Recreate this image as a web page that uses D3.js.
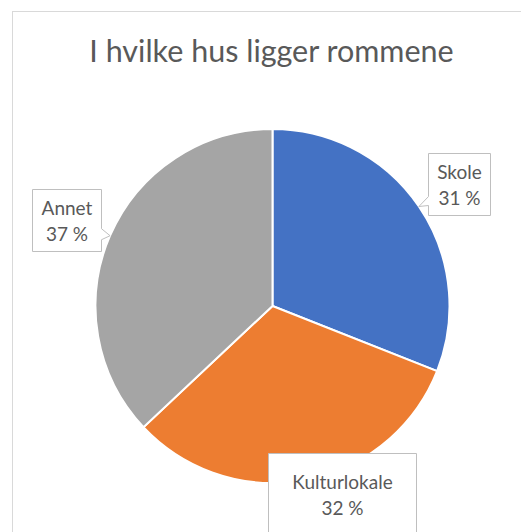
<!DOCTYPE html>
<html lang="no">
<head>
<meta charset="utf-8">
<title>I hvilke hus ligger rommene</title>
<script src="https://d3js.org/d3.v7.min.js"></script>
<style>
  body { margin: 0; background: #fff; }
  text { font-family: Lato, "Open Sans", sans-serif; fill: #595959; }
</style>
</head>
<body>
<div id="chart"></div>
<script>
// data
var categories = ["Skole", "Kulturlokale", "Annet"];
var values = [31, 32, 37];
var labels = ["31 %", "32 %", "37 %"];
var colors = ["#4472C4", "#ED7D31", "#A5A5A5"];

var W = 521, H = 532;
var cx = 272.5, cy = 306, radius = 177;

var svg = d3.select("#chart").append("svg")
    .attr("width", W)
    .attr("height", H);

// chart area border (runs off the right and bottom edge)
svg.append("rect")
    .attr("x", 12.5).attr("y", 11.5)
    .attr("width", 560).attr("height", 560)
    .attr("fill", "#fff")
    .attr("stroke", "#D9D9D9");

// title
svg.append("text")
    .attr("x", cx - 1).attr("y", 62)
    .attr("text-anchor", "middle")
    .style("font-size", "30.5px")
    .text("I hvilke hus ligger rommene");

var pie = d3.pie().sort(null).value(function(d) { return d; });
var arcs = pie(values);
var arc = d3.arc().innerRadius(0).outerRadius(radius);

var g = svg.append("g").attr("transform", "translate(" + cx + "," + cy + ")");
g.selectAll("path.slice")
  .data(arcs)
  .enter().append("path")
    .attr("class", "slice")
    .attr("d", arc)
    .attr("fill", function(d, i) { return colors[i]; })
    .attr("stroke", "#fff")
    .attr("stroke-width", 2);

// callout boxes: offsets relative to the pointer tip (outer edge at mid angle)
// side = which edge the pointer comes out of
var boxes = [
  {dx: 9, dy: -54, w: 62, h: 62, side: "left"},
  {dx: -38, dy: -27, w: 148, h: 90, side: "none"},
  {dx: -78, dy: -47, w: 69, h: 62, side: "right"}
];

arcs.forEach(function(d, i) {
  var a = (d.startAngle + d.endAngle) / 2;
  var tx = cx + radius * Math.sin(a);
  var ty = cy - radius * Math.cos(a);
  var b = boxes[i];
  var x0 = Math.round(tx + b.dx) + 0.5, y0 = Math.round(ty + b.dy) + 0.5;
  var x1 = x0 + b.w, y1 = y0 + b.h;
  var p;
  if (b.side === "left") {
    p = "M" + x0 + "," + y0 + "H" + x1 + "V" + y1 + "H" + x0 +
        "V" + (ty - 1) + "L" + tx + "," + ty + "L" + x0 + "," + (ty - 10) + "Z";
  } else if (b.side === "right") {
    p = "M" + x0 + "," + y0 + "H" + x1 + "V" + (ty - 7) + "L" + tx + "," + ty +
        "L" + x1 + "," + (ty + 4) + "V" + y1 + "H" + x0 + "Z";
  } else {
    p = "M" + x0 + "," + y0 + "H" + x1 + "V" + y1 + "H" + x0 + "Z";
  }
  svg.append("path")
    .attr("d", p)
    .attr("fill", "#fff")
    .attr("stroke", "#BFBFBF")
    .attr("stroke-width", 1);

  var mx = (x0 + x1) / 2;
  var top = i === 1 ? y0 + 35 : y0 + 25;
  svg.append("text")
    .attr("x", mx).attr("y", top)
    .attr("text-anchor", "middle")
    .style("font-size", "19px")
    .text(categories[i]);
  svg.append("text")
    .attr("x", mx).attr("y", top + 26)
    .attr("text-anchor", "middle")
    .style("font-size", "19px")
    .text(labels[i]);
});
</script>
</body>
</html>
